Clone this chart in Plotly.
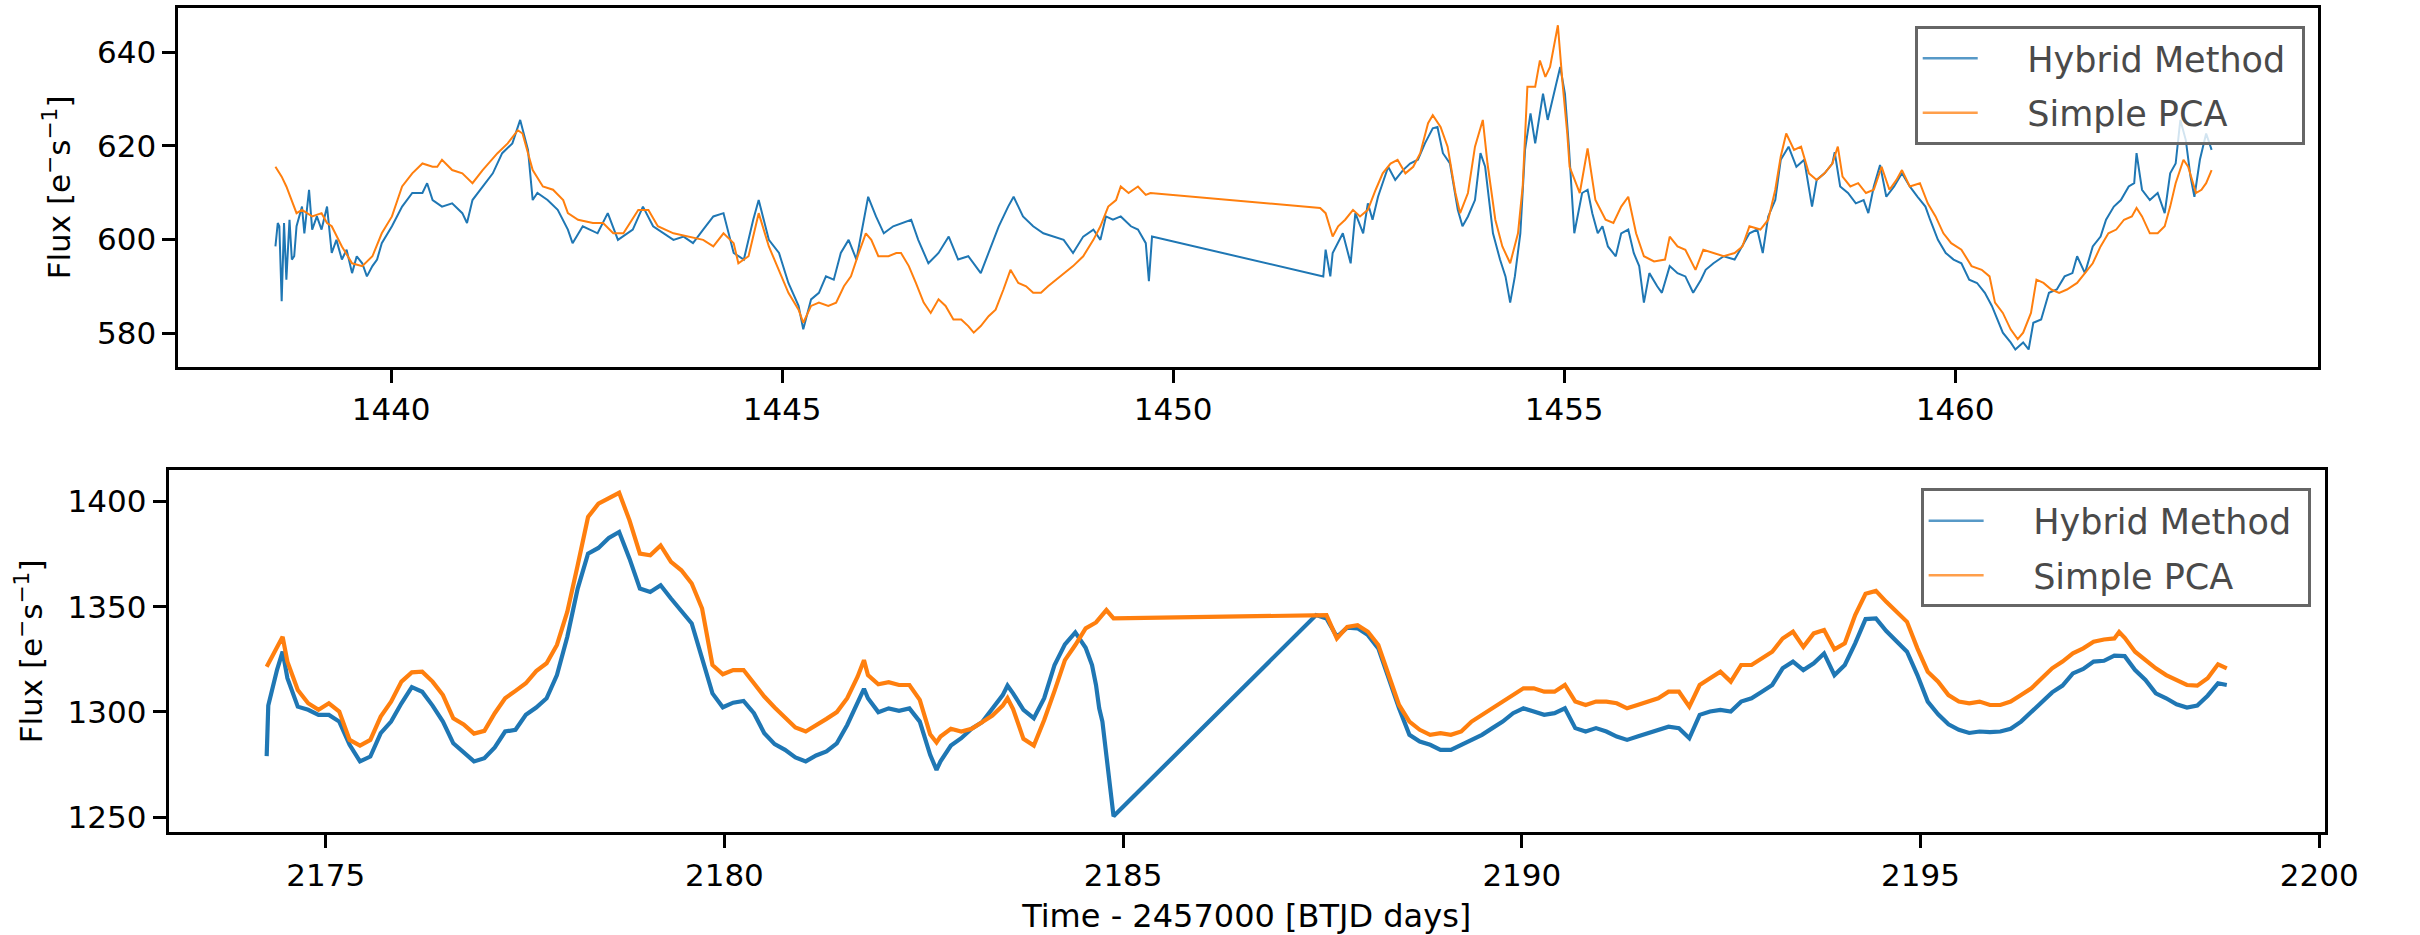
import plotly.graph_objects as go

# ---------------- Sector A (top panel) ----------------
top_t_hybrid = [
    1438.52, 1438.55, 1438.57, 1438.60, 1438.63, 1438.66, 1438.70, 1438.73, 1438.76, 1438.79,
    1438.86, 1438.89, 1438.95, 1438.99, 1439.05, 1439.11, 1439.18, 1439.24, 1439.30, 1439.37,
    1439.43, 1439.50, 1439.56, 1439.63, 1439.69, 1439.76, 1439.82, 1439.88, 1440.01, 1440.14,
    1440.27, 1440.40, 1440.46, 1440.53, 1440.65, 1440.78, 1440.91, 1440.97, 1441.04, 1441.17,
    1441.30, 1441.42, 1441.55, 1441.65, 1441.75, 1441.81, 1441.87, 1442.00, 1442.13, 1442.26,
    1442.32, 1442.45, 1442.64, 1442.77, 1442.90, 1443.09, 1443.22, 1443.35, 1443.48, 1443.61,
    1443.74, 1443.86, 1443.99, 1444.12, 1444.25, 1444.38, 1444.51, 1444.63, 1444.70, 1444.83,
    1444.96,
    1445.08, 1445.21, 1445.27, 1445.37, 1445.47, 1445.56, 1445.66, 1445.75, 1445.85, 1445.95,
    1446.01, 1446.10, 1446.20, 1446.30, 1446.42, 1446.55, 1446.65, 1446.74, 1446.87, 1447.00,
    1447.13, 1447.25, 1447.38, 1447.54, 1447.64, 1447.77, 1447.89, 1447.96, 1448.08, 1448.21,
    1448.34, 1448.47, 1448.60, 1448.72, 1448.85, 1448.98, 1449.07, 1449.14, 1449.23, 1449.33,
    1449.46, 1449.55, 1449.65, 1449.69, 1449.73,
    1451.92, 1451.95, 1452.01, 1452.04, 1452.17, 1452.27, 1452.33, 1452.43, 1452.49, 1452.55,
    1452.62, 1452.68, 1452.75, 1452.84, 1452.94, 1453.03, 1453.13, 1453.22, 1453.32, 1453.38,
    1453.45, 1453.54, 1453.64, 1453.70, 1453.77, 1453.86, 1453.93, 1453.99, 1454.09, 1454.18,
    1454.25, 1454.31, 1454.37, 1454.44, 1454.50, 1454.57, 1454.63, 1454.73, 1454.79, 1454.89,
    1454.95, 1455.01, 1455.06,
    1455.13, 1455.23, 1455.30, 1455.36, 1455.43, 1455.49, 1455.56, 1455.66, 1455.73, 1455.82,
    1455.89, 1455.96, 1456.02, 1456.09, 1456.19, 1456.25, 1456.35, 1456.45, 1456.55, 1456.65,
    1456.75, 1456.81, 1456.91, 1457.04, 1457.18, 1457.28, 1457.37, 1457.47, 1457.54, 1457.61,
    1457.70, 1457.77, 1457.87, 1457.97, 1458.07, 1458.17, 1458.23, 1458.33, 1458.43, 1458.46,
    1458.53, 1458.63, 1458.73, 1458.83, 1458.89, 1458.96, 1459.04, 1459.12, 1459.22, 1459.32,
    1459.42, 1459.52, 1459.62, 1459.68, 1459.78, 1459.88, 1459.98, 1460.08, 1460.18, 1460.28,
    1460.38, 1460.47, 1460.54, 1460.61, 1460.71, 1460.77, 1460.87, 1460.94, 1461.00, 1461.10,
    1461.20, 1461.30, 1461.40, 1461.50, 1461.56, 1461.66, 1461.76, 1461.86, 1461.93, 1462.03,
    1462.12, 1462.22, 1462.29, 1462.32, 1462.39, 1462.49, 1462.59, 1462.68, 1462.75, 1462.82,
    1462.88, 1462.95, 1463.01, 1463.06, 1463.13, 1463.21, 1463.28,
]
top_f_hybrid = [
    598.5, 603.5, 602.8, 586.8, 603.5, 591.4, 604.2, 595.7, 596.4, 602.8,
    607.0, 601.3, 610.6, 602.1, 604.9, 602.1, 607.0, 597.1, 599.9, 595.7,
    597.8, 592.8, 596.4, 594.9, 592.1, 594.3, 595.7, 599.2, 602.8, 607.0,
    609.9, 609.9, 612.0, 608.4, 607.0, 607.7, 605.6, 603.5, 608.4, 611.3,
    614.1, 618.4, 620.5, 625.5, 619.1, 608.4, 609.9, 608.4, 606.3, 602.1,
    599.2, 602.8, 601.3, 605.6, 599.9, 602.1, 607.0, 602.8, 601.3, 599.9,
    600.6, 599.2, 602.1, 604.9, 605.6, 597.1, 595.7, 604.2, 608.4, 599.9,
    597.1,
    590.7, 585.8, 580.8, 587.2, 588.6, 592.1, 591.4, 597.1, 599.9, 595.7,
    601.3, 609.1, 604.9, 601.3, 602.8, 603.5, 604.2, 599.9, 594.9, 597.1,
    600.6, 595.7, 596.4, 592.8, 597.1, 602.8, 607.0, 609.1, 604.9, 602.8,
    601.3, 600.6, 599.9, 597.1, 600.6, 602.1, 599.9, 604.9, 604.2, 604.9,
    602.8, 602.1, 599.2, 591.1, 600.6,
    592.1, 597.8, 592.1, 597.1, 601.3, 594.9, 605.6, 601.3, 607.7, 604.2,
    609.1, 612.0, 615.5, 612.7, 614.8, 616.2, 617.0, 620.5, 623.7, 624.0,
    618.4, 616.2, 606.3, 602.8, 604.9, 608.4, 618.4, 615.5, 601.3, 595.7,
    592.1, 586.5, 592.1, 601.3, 619.1, 626.9, 620.5, 631.1, 625.5, 632.6,
    636.8, 631.1, 620.0,
    601.3, 609.9, 610.6, 605.6, 601.3, 602.8, 598.5, 596.4, 601.3, 602.1,
    597.1, 594.3, 586.5, 592.8, 590.0, 588.6, 594.3, 592.8, 592.1, 588.6,
    591.4, 593.5, 594.9, 596.4, 595.7, 598.5, 601.3, 602.1, 597.1, 604.9,
    608.4, 617.0, 619.8, 615.5, 617.0, 607.0, 612.7, 614.1, 616.2, 618.6,
    611.3, 609.9, 607.7, 608.4, 605.6, 611.3, 615.9, 609.1, 611.3, 614.1,
    611.3, 609.1, 607.0, 604.2, 599.9, 597.1, 595.7, 594.9, 591.4, 590.7,
    588.6, 585.8, 582.9, 580.1, 578.0, 576.5, 578.0, 576.5, 582.2, 582.9,
    588.6, 589.3, 592.1, 592.8, 596.4, 592.8, 598.5, 600.6, 604.2, 607.0,
    608.4, 611.3, 612.0, 618.4, 610.6, 608.4, 609.9, 605.6, 614.1, 616.2,
    625.5, 621.2, 613.4, 609.1, 617.0, 622.6, 619.1,
]

top_t_pca = [
    1438.52, 1438.60, 1438.66, 1438.73, 1438.79, 1438.86, 1438.92, 1438.99, 1439.11, 1439.18,
    1439.24, 1439.37, 1439.50, 1439.63, 1439.76, 1439.88, 1440.01, 1440.14, 1440.27, 1440.40,
    1440.53, 1440.59, 1440.65, 1440.78, 1440.91, 1441.04, 1441.17, 1441.36, 1441.49, 1441.62,
    1441.68, 1441.81, 1441.94, 1442.07, 1442.20, 1442.26, 1442.39, 1442.58, 1442.71, 1442.84,
    1442.97, 1443.16, 1443.29, 1443.41, 1443.61, 1443.80, 1443.99, 1444.12, 1444.25, 1444.38,
    1444.44, 1444.57, 1444.70, 1444.83, 1444.96,
    1445.08, 1445.21, 1445.27, 1445.37, 1445.47, 1445.59, 1445.69, 1445.79, 1445.88, 1445.98,
    1446.07, 1446.14, 1446.23, 1446.36, 1446.46, 1446.52, 1446.62, 1446.71, 1446.81, 1446.90,
    1447.00, 1447.09, 1447.19, 1447.29, 1447.38, 1447.45, 1447.54, 1447.64, 1447.73, 1447.83,
    1447.92, 1448.02, 1448.12, 1448.21, 1448.31, 1448.40, 1448.50, 1448.60, 1448.72, 1448.85,
    1448.98, 1449.07, 1449.17, 1449.27, 1449.33, 1449.43, 1449.55, 1449.65, 1449.71,
    1451.88, 1451.95, 1452.04, 1452.11, 1452.20, 1452.30, 1452.39, 1452.49, 1452.59, 1452.68,
    1452.78, 1452.87, 1452.97, 1453.07, 1453.16, 1453.26, 1453.32, 1453.42, 1453.51, 1453.61,
    1453.67, 1453.77, 1453.86, 1453.96, 1454.02, 1454.12, 1454.21, 1454.31, 1454.41, 1454.47,
    1454.53, 1454.63, 1454.69, 1454.76, 1454.82, 1454.92, 1454.98, 1455.04,
    1455.07, 1455.20, 1455.30, 1455.40, 1455.53, 1455.63, 1455.73, 1455.82, 1455.92, 1456.02,
    1456.15, 1456.29, 1456.35, 1456.45, 1456.55, 1456.68, 1456.78, 1456.91, 1457.04, 1457.18,
    1457.28, 1457.37, 1457.51, 1457.61, 1457.70, 1457.77, 1457.84, 1457.94, 1458.03, 1458.13,
    1458.23, 1458.33, 1458.43, 1458.50, 1458.56, 1458.66, 1458.76, 1458.86, 1458.96, 1459.06,
    1459.16, 1459.25, 1459.32, 1459.42, 1459.55, 1459.65, 1459.75, 1459.85, 1459.95, 1460.08,
    1460.21, 1460.34, 1460.44, 1460.51, 1460.61, 1460.71, 1460.80, 1460.87, 1460.97, 1461.04,
    1461.13, 1461.23, 1461.33, 1461.43, 1461.56, 1461.66, 1461.76, 1461.86, 1461.96, 1462.06,
    1462.16, 1462.26, 1462.32, 1462.39, 1462.49, 1462.59, 1462.68, 1462.75, 1462.82, 1462.92,
    1462.98, 1463.08, 1463.15, 1463.21, 1463.28,
]
top_f_pca = [
    615.5, 613.4, 611.3, 608.4, 605.6, 606.3, 605.6, 604.9, 605.6, 603.5,
    602.8, 598.5, 594.9, 594.3, 596.4, 601.3, 604.9, 611.3, 614.1, 616.2,
    615.5, 615.5, 617.0, 614.8, 614.1, 612.0, 614.8, 618.4, 620.5, 623.3,
    622.6, 614.8, 611.3, 610.6, 608.4, 605.6, 604.2, 603.5, 603.5, 601.3,
    601.3, 606.3, 606.3, 602.8, 601.3, 600.6, 599.9, 598.5, 601.3, 599.2,
    594.9, 596.4, 605.6, 598.5, 593.5,
    588.6, 585.0, 582.2, 585.8, 586.5, 585.8, 586.5, 590.0, 592.1, 597.1,
    601.3, 599.9, 596.4, 596.4, 597.1, 597.1, 594.3, 590.7, 586.5, 584.3,
    587.2, 585.8, 582.9, 582.9, 581.5, 580.1, 581.5, 583.6, 585.0, 589.3,
    593.5, 590.7, 590.0, 588.6, 588.6, 590.0, 591.4, 592.8, 594.3, 596.4,
    599.9, 602.8, 607.0, 608.4, 611.3, 609.9, 611.3, 609.5, 609.9,
    606.7, 605.6, 600.6, 602.8, 604.2, 606.3, 604.9, 606.3, 610.6, 614.1,
    616.2, 617.0, 614.1, 615.5, 618.4, 624.8, 626.5, 624.0, 619.8, 609.9,
    605.6, 609.9, 619.8, 625.5, 616.2, 604.2, 598.5, 594.9, 601.3, 611.3,
    632.6, 632.6, 638.2, 634.7, 636.8, 645.7, 633.3, 622.6,
    615.5, 609.9, 619.4, 608.4, 604.2, 603.5, 607.0, 609.1, 601.3, 596.4,
    595.3, 595.7, 600.6, 598.5, 597.8, 593.5, 597.8, 597.1, 596.4, 597.1,
    598.5, 602.8, 602.1, 604.2, 610.6, 617.7, 622.6, 619.1, 619.8, 614.1,
    612.7, 614.1, 616.2, 619.8, 613.4, 611.3, 612.0, 609.9, 610.6, 615.5,
    610.6, 612.7, 614.8, 611.3, 612.0, 607.7, 604.9, 601.3, 599.2, 597.8,
    594.3, 593.5, 592.1, 586.5, 584.3, 580.8, 578.7, 580.1, 584.3, 591.4,
    590.7, 589.3, 588.6, 589.3, 590.7, 592.8, 594.9, 598.5, 601.3, 602.1,
    604.2, 604.9, 606.7, 604.9, 601.3, 601.3, 602.8, 607.0, 612.0, 617.0,
    615.5, 609.9, 610.6, 612.0, 614.8,
]

# ---------------- Sector B (bottom panel) ----------------
bot_t_hybrid = [
    2174.26, 2174.28, 2174.39, 2174.46, 2174.52, 2174.65, 2174.78, 2174.91, 2175.04, 2175.17,
    2175.30, 2175.43, 2175.56, 2175.69, 2175.82, 2175.95, 2176.08, 2176.21, 2176.34, 2176.47,
    2176.60, 2176.73, 2176.86, 2176.99, 2177.12, 2177.25, 2177.38, 2177.51, 2177.64, 2177.77,
    2177.90, 2178.03, 2178.16, 2178.29, 2178.42, 2178.55, 2178.68, 2178.81, 2178.94, 2179.07,
    2179.20, 2179.33, 2179.46, 2179.59, 2179.72,
    2179.85, 2179.98, 2180.11, 2180.24, 2180.37, 2180.50, 2180.63, 2180.76, 2180.89, 2181.02,
    2181.15, 2181.28, 2181.41, 2181.54, 2181.67, 2181.75, 2181.80, 2181.93, 2182.06, 2182.19,
    2182.32, 2182.45, 2182.58, 2182.66, 2182.71, 2182.84, 2182.97, 2183.10, 2183.23, 2183.36,
    2183.49, 2183.55, 2183.62, 2183.75, 2183.88, 2184.01, 2184.14, 2184.27, 2184.40, 2184.53,
    2184.61, 2184.66, 2184.70, 2184.74, 2184.77, 2184.80, 2184.84, 2184.88,
    2187.42, 2187.55, 2187.68, 2187.81, 2187.94, 2188.07, 2188.20, 2188.33, 2188.46, 2188.59,
    2188.72, 2188.85, 2188.98, 2189.11, 2189.24, 2189.37, 2189.50, 2189.63, 2189.76, 2189.89,
    2190.02, 2190.15, 2190.28, 2190.41, 2190.54, 2190.67, 2190.80, 2190.93, 2191.06, 2191.19,
    2191.32, 2191.45, 2191.58, 2191.71, 2191.84, 2191.97, 2192.10, 2192.23, 2192.36, 2192.49,
    2192.62, 2192.75, 2192.88, 2193.01, 2193.14, 2193.27,
    2193.40, 2193.53, 2193.66, 2193.79, 2193.92, 2194.05, 2194.18, 2194.31, 2194.44, 2194.57,
    2194.70, 2194.83, 2194.96, 2195.09, 2195.22, 2195.35, 2195.48, 2195.61, 2195.74, 2195.87,
    2196.00, 2196.13, 2196.26, 2196.39, 2196.52, 2196.65, 2196.78, 2196.91, 2197.04, 2197.17,
    2197.30, 2197.43, 2197.56, 2197.69, 2197.82, 2197.95, 2198.08, 2198.21, 2198.34, 2198.47,
    2198.60, 2198.73, 2198.84,
]
bot_f_hybrid = [
    1279.0, 1303.0, 1320.0, 1328.6, 1316.0, 1302.5, 1301.0, 1298.6, 1298.6, 1295.4,
    1284.4, 1276.5, 1278.8, 1289.9, 1295.4, 1304.1, 1311.8, 1309.6, 1303.0, 1295.4,
    1285.1, 1280.9, 1276.5, 1278.0, 1283.1, 1290.7, 1291.5, 1298.6, 1302.1, 1306.5,
    1317.5, 1335.7, 1358.6, 1375.2, 1377.9, 1382.6, 1385.5, 1372.8, 1358.6, 1357.0,
    1360.2, 1353.9, 1348.3, 1342.0, 1325.4,
    1308.8, 1302.2, 1304.4, 1305.2, 1299.4, 1289.9, 1284.7, 1282.0, 1278.4, 1276.5,
    1279.3, 1281.2, 1285.1, 1293.8, 1304.1, 1311.0, 1306.5, 1299.9, 1301.7, 1300.5,
    1301.7, 1295.4, 1279.6, 1272.5, 1276.5, 1284.0, 1287.5, 1292.0, 1295.1, 1301.4,
    1308.0, 1312.5, 1308.8, 1301.0, 1297.0, 1306.5, 1322.3, 1332.1, 1337.8, 1330.5,
    1322.3, 1312.8, 1301.7, 1295.4, 1285.9, 1276.5, 1263.8, 1250.4,
    1346.0, 1344.4, 1335.7, 1340.0, 1339.7, 1336.5, 1330.2, 1316.0, 1301.7, 1289.1,
    1285.9, 1284.4, 1282.0, 1282.0, 1284.4, 1286.7, 1289.1, 1292.3, 1295.4, 1299.4,
    1301.7, 1300.2, 1298.6, 1299.4, 1301.7, 1292.3, 1290.7, 1292.3, 1290.7, 1288.3,
    1286.7, 1288.3, 1289.9, 1291.5, 1293.0, 1292.3, 1287.5, 1298.6, 1300.2, 1301.0,
    1300.2, 1304.9, 1306.5, 1309.6, 1312.8, 1320.7,
    1323.9, 1319.9, 1323.1, 1327.8, 1317.5, 1322.3, 1332.6, 1344.1, 1344.4, 1338.4,
    1333.6, 1328.6, 1317.5, 1304.9, 1298.9, 1294.1, 1291.5, 1290.0, 1290.7, 1290.4,
    1290.7, 1292.0, 1295.4, 1300.2, 1304.9, 1309.3, 1312.5, 1318.3, 1320.4, 1323.9,
    1324.3, 1326.7, 1326.5, 1319.9, 1315.2, 1308.8, 1306.5, 1303.6, 1302.1, 1303.0,
    1307.7, 1313.6, 1312.8,
]

bot_t_pca = [
    2174.26, 2174.39, 2174.46, 2174.52, 2174.65, 2174.78, 2174.91, 2175.04, 2175.17,
    2175.30, 2175.43, 2175.56, 2175.69, 2175.82, 2175.95, 2176.08, 2176.21, 2176.34, 2176.47,
    2176.60, 2176.73, 2176.86, 2176.99, 2177.12, 2177.25, 2177.38, 2177.51, 2177.64, 2177.77,
    2177.90, 2178.03, 2178.16, 2178.29, 2178.42, 2178.55, 2178.68, 2178.81, 2178.94, 2179.07,
    2179.20, 2179.33, 2179.46, 2179.59, 2179.72,
    2179.85, 2179.98, 2180.11, 2180.24, 2180.37, 2180.50, 2180.63, 2180.76, 2180.89, 2181.02,
    2181.15, 2181.28, 2181.41, 2181.54, 2181.67, 2181.75, 2181.80, 2181.93, 2182.06, 2182.19,
    2182.32, 2182.45, 2182.58, 2182.66, 2182.71, 2182.84, 2182.97, 2183.10, 2183.23, 2183.36,
    2183.49, 2183.55, 2183.62, 2183.75, 2183.88, 2184.01, 2184.14, 2184.27, 2184.40, 2184.53,
    2184.66, 2184.79, 2184.88,
    2187.42, 2187.55, 2187.68, 2187.81, 2187.94, 2188.07, 2188.20, 2188.33, 2188.46, 2188.59,
    2188.72, 2188.85, 2188.98, 2189.11, 2189.24, 2189.37, 2189.50, 2189.63, 2189.76, 2189.89,
    2190.02, 2190.15, 2190.28, 2190.41, 2190.54, 2190.67, 2190.80, 2190.93, 2191.06, 2191.19,
    2191.32, 2191.45, 2191.58, 2191.71, 2191.84, 2191.97, 2192.10, 2192.23, 2192.36, 2192.49,
    2192.62, 2192.75, 2192.88, 2193.01, 2193.14, 2193.27,
    2193.40, 2193.53, 2193.66, 2193.79, 2193.92, 2194.05, 2194.18, 2194.31, 2194.44, 2194.57,
    2194.70, 2194.83, 2194.96, 2195.09, 2195.22, 2195.35, 2195.48, 2195.61, 2195.74, 2195.87,
    2196.00, 2196.13, 2196.26, 2196.39, 2196.52, 2196.65, 2196.78, 2196.91, 2197.04, 2197.17,
    2197.30, 2197.43, 2197.49, 2197.56, 2197.69, 2197.82, 2197.95, 2198.08, 2198.21, 2198.34,
    2198.47, 2198.60, 2198.73, 2198.84,
]
bot_f_pca = [
    1321.5, 1330.2, 1335.7, 1323.9, 1310.4, 1304.1, 1301.0, 1304.1, 1300.2,
    1286.7, 1284.0, 1286.7, 1297.8, 1304.9, 1314.4, 1318.8, 1319.1, 1314.4, 1308.0,
    1297.0, 1294.1, 1289.7, 1291.0, 1299.4, 1306.5, 1310.0, 1313.6, 1319.4, 1323.1,
    1331.8, 1347.6, 1369.7, 1392.6, 1398.9, 1401.3, 1404.1, 1391.0, 1375.2, 1374.4,
    1379.1, 1371.3, 1367.3, 1361.0, 1349.1,
    1322.3, 1317.9, 1319.9, 1319.9, 1313.6, 1307.3, 1302.1, 1297.3, 1292.6, 1290.7,
    1293.5, 1296.7, 1299.9, 1306.5, 1316.7, 1324.6, 1317.5, 1313.1, 1314.1, 1312.8,
    1312.8, 1305.7, 1289.4, 1285.5, 1288.3, 1292.0, 1290.7, 1292.0, 1295.1, 1298.3,
    1303.0, 1306.5, 1301.4, 1287.2, 1284.0, 1296.2, 1310.0, 1324.6, 1331.8, 1339.7,
    1342.5, 1348.4, 1344.4,
    1346.0, 1346.0, 1334.9, 1340.4, 1341.2, 1338.1, 1331.8, 1317.5, 1303.3, 1295.4,
    1291.5, 1289.1, 1289.9, 1289.1, 1290.7, 1295.4, 1298.6, 1301.7, 1304.9, 1308.0,
    1311.2, 1311.2, 1309.6, 1309.6, 1312.8, 1304.9, 1303.3, 1304.9, 1304.9, 1304.1,
    1301.7, 1303.3, 1304.9, 1306.5, 1309.6, 1309.6, 1302.5, 1312.8, 1316.0, 1319.1,
    1314.4, 1322.3, 1322.3, 1325.4, 1328.6, 1334.9,
    1338.1, 1330.9, 1337.3, 1338.9, 1329.7, 1332.6, 1346.0, 1356.1, 1357.5, 1352.3,
    1347.6, 1342.8, 1330.2, 1319.1, 1314.4, 1308.0, 1304.9, 1304.1, 1304.9, 1303.3,
    1303.3, 1304.9, 1308.0, 1311.2, 1316.0, 1320.7, 1323.9, 1327.8, 1330.2, 1333.3,
    1334.4, 1334.9, 1338.0, 1335.2, 1328.6, 1324.6, 1320.7, 1317.5, 1315.2, 1312.8,
    1312.5, 1316.0, 1322.6, 1320.7,
]

top_xticks = [1440, 1445, 1450, 1455, 1460]
top_yticks = [580, 600, 620, 640]
bot_xticks = [2175, 2180, 2185, 2190, 2195, 2200]
bot_yticks = [1250, 1300, 1350, 1400]
series_names = ["Hybrid Method", "Simple PCA"]

BLUE = "#1f77b4"
ORANGE = "#ff7f0e"
BLUE_LEG = "rgba(31,119,180,0.75)"
ORANGE_LEG = "rgba(255,127,14,0.75)"
FONT = "DejaVu Sans"
W, H = 2420, 935
PAD = "\u00a0" * 4  # gap between legend line sample and its label

fig = go.Figure()
# data traces (legend entries drawn by the legend-only traces below)
fig.add_trace(go.Scatter(x=top_t_hybrid, y=top_f_hybrid, mode="lines", name=series_names[0],
                         line=dict(color=BLUE, width=2), xaxis="x", yaxis="y", showlegend=False))
fig.add_trace(go.Scatter(x=top_t_pca, y=top_f_pca, mode="lines", name=series_names[1],
                         line=dict(color=ORANGE, width=2), xaxis="x", yaxis="y", showlegend=False))
fig.add_trace(go.Scatter(x=bot_t_hybrid, y=bot_f_hybrid, mode="lines", name=series_names[0],
                         line=dict(color=BLUE, width=4.2), xaxis="x2", yaxis="y2", showlegend=False))
fig.add_trace(go.Scatter(x=bot_t_pca, y=bot_f_pca, mode="lines", name=series_names[1],
                         line=dict(color=ORANGE, width=4.2), xaxis="x2", yaxis="y2", showlegend=False))

# legend entries
for lg, xa, ya in (("legend", "x", "y"), ("legend2", "x2", "y2")):
    for i, col in enumerate((BLUE_LEG, ORANGE_LEG)):
        fig.add_trace(go.Scatter(x=[None], y=[None], mode="lines",
                                 name=PAD + series_names[i] + "\u00a0",
                                 line=dict(color=col, width=2.5), xaxis=xa, yaxis=ya,
                                 legend=lg, legendgroup=f"{lg}{i}", showlegend=True))

axis_common = dict(showline=True, mirror=True, linecolor="black", linewidth=3,
                   ticks="outside", ticklen=13, tickwidth=3, tickcolor="black",
                   showgrid=False, zeroline=False,
                   tickfont=dict(family=FONT, size=31, color="black"))
ytitle = "Flux [e<sup>−</sup>s<sup>−1</sup>]"

legend_common = dict(xanchor="left", yanchor="top", bgcolor="rgba(255,255,255,0.8)",
                     bordercolor="#666666", borderwidth=3,
                     font=dict(family=FONT, size=35, color="#4a4a4a"),
                     itemwidth=55, tracegroupgap=6)

fig.update_layout(
    width=W, height=H, autosize=False,
    margin=dict(l=0, r=0, t=0, b=0),
    paper_bgcolor="white", plot_bgcolor="white",
    font=dict(family=FONT, color="black"),
    xaxis=dict(domain=[181 / W, 2351 / W], range=[1437.28, 1464.64], anchor="y",
               tickvals=top_xticks, **axis_common),
    yaxis=dict(domain=[1 - 368 / H, 1 - 8 / H], range=[572.8, 649.4], anchor="x",
               tickvals=top_yticks, title=dict(text=ytitle, standoff=18,
                                                font=dict(family=FONT, size=31)),
               **axis_common),
    xaxis2=dict(domain=[171 / W, 2358 / W], range=[2173.03, 2200.07], anchor="y2",
                tickvals=bot_xticks,
                title=dict(text="Time - 2457000 [BTJD days]", standoff=14,
                           font=dict(family=FONT, size=32)),
                **axis_common),
    yaxis2=dict(domain=[1 - 835 / H, 1 - 472 / H], range=[1242.8, 1414.7], anchor="x2",
                tickvals=bot_yticks, title=dict(text=ytitle, standoff=16,
                                                 font=dict(family=FONT, size=31)),
                **axis_common),
    legend=dict(x=1942 / W, y=1 - 26 / H, **legend_common),
    legend2=dict(x=1948 / W, y=1 - 490 / H, **legend_common),
)

fig.write_html("out.html")
